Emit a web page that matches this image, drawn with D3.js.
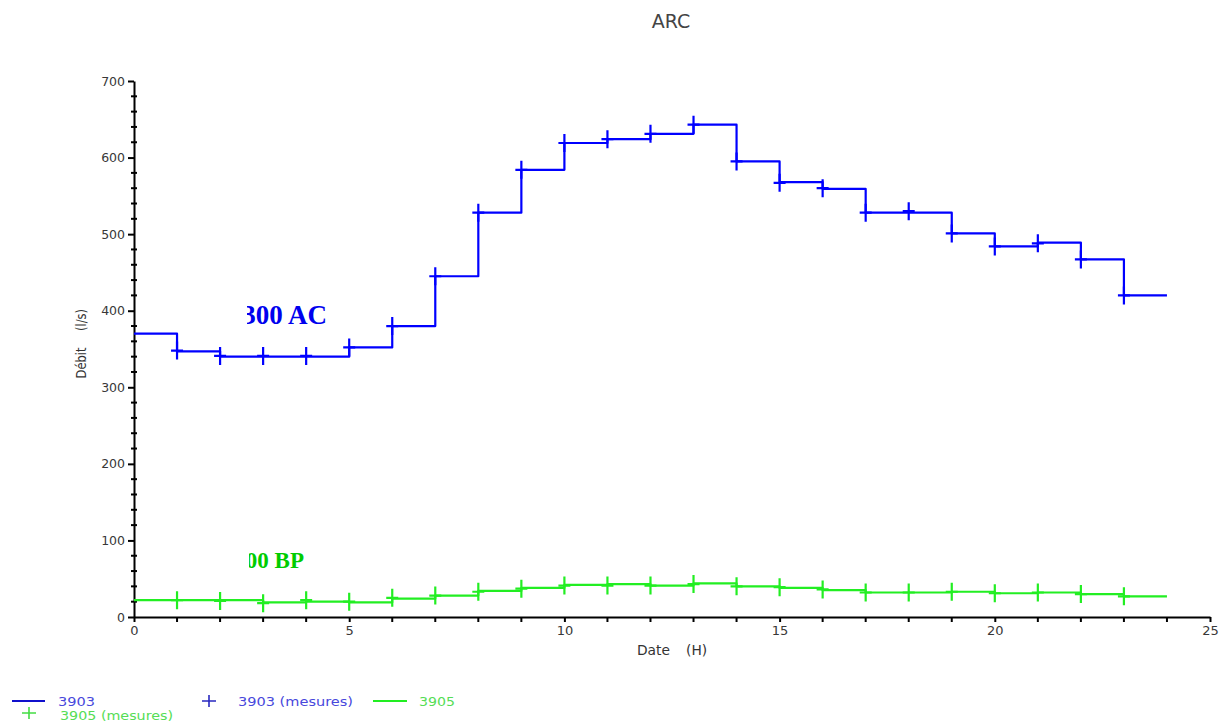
<!DOCTYPE html>
<html>
<head>
<meta charset="utf-8">
<script src="https://cdn.jsdelivr.net/npm/d3@7"></script>
<style>
  html, body { margin: 0; padding: 0; background: #fff; }
  svg { display: block; }
</style>
</head>
<body>
<svg id="chart" width="1222" height="722"></svg>
<script>
// Hourly step boundaries (H)
const hours = [0, 1, 2, 3, 4, 5, 6, 7, 8, 9, 10, 11, 12, 13, 14, 15, 16, 17, 18, 19, 20, 21, 22, 23, 24];
// Flow of each hourly interval (l/s)
const flow3903 = [370, 347, 340, 340, 340, 352, 380, 445, 528, 584, 619, 624, 631, 643, 595, 568, 559, 528, 528, 501, 484, 489, 467, 420];
const flow3905 = [22, 22, 22, 19, 20, 19, 24, 28, 34, 38, 42, 43, 41, 44, 40, 38, 35, 32, 32, 33, 31, 32, 30, 27];
// Measured points
const measureHours = [1, 2, 3, 4, 5, 6, 7, 8, 9, 10, 11, 12, 13, 14, 15, 16, 17, 18, 19, 20, 21, 22, 23];
const measures3903 = [348, 341, 341, 341, 352, 380, 445, 528, 584, 619, 624, 631, 643, 595, 567, 560, 528, 530, 501, 484, 488, 467, 420];
const measures3905 = [22, 21, 18, 22, 20, 25, 28, 33, 37, 41, 41, 41, 43, 40, 39, 36, 32, 32, 33, 31, 32, 30, 27];
// Axis ticks
const xTicks = [0, 5, 10, 15, 20, 25];
const xMinorTicks = [1, 2, 3, 4, 6, 7, 8, 9, 11, 12, 13, 14, 16, 17, 18, 19, 21, 22, 23, 24];
const yTicks = [0, 100, 200, 300, 400, 500, 600, 700];
const yMinorTicks = [20, 40, 60, 80, 120, 140, 160, 180, 220, 240, 260, 280, 320, 340, 360, 380,
                     420, 440, 460, 480, 520, 540, 560, 580, 620, 640, 660, 680];

const BLUE = "#0000ff";
const GREEN = "#22ee22";

const svg = d3.select("#chart");
const x = d3.scaleLinear().domain([0, 25]).range([134, 1210]);
const y = d3.scaleLinear().domain([0, 700]).range([617, 81]);

// Title
svg.append("text")
  .attr("x", 671).attr("y", 28)
  .attr("text-anchor", "middle")
  .attr("font-family", "DejaVu Sans, sans-serif")
  .attr("font-size", 19)
  .attr("fill", "#444")
  .text("ARC");

// Y axis (major + minor ticks)
const yAxis = svg.append("g")
  .attr("transform", `translate(${x(0)},0)`)
  .call(d3.axisLeft(y).tickValues(yTicks).tickSize(6).tickSizeOuter(0).tickPadding(3));
yAxis.select(".domain").attr("stroke", "#000").attr("stroke-width", 2);
yAxis.selectAll(".tick line").attr("stroke", "#000").attr("stroke-width", 2);
yAxis.selectAll(".tick text")
  .attr("font-family", "DejaVu Sans, sans-serif")
  .attr("font-size", 12.5)
  .attr("fill", "#383838");

svg.append("g").selectAll("line")
  .data(yMinorTicks).join("line")
  .attr("x1", x(0) - 3).attr("x2", x(0) + 3)
  .attr("y1", d => y(d)).attr("y2", d => y(d))
  .attr("stroke", "#000").attr("stroke-width", 2);

// X axis (major + minor ticks)
const xAxis = svg.append("g")
  .attr("transform", `translate(0,${y(0)})`)
  .call(d3.axisBottom(x).tickValues(xTicks).tickSize(5).tickSizeOuter(0).tickPadding(4));
xAxis.select(".domain").attr("stroke", "#000").attr("stroke-width", 2);
xAxis.selectAll(".tick line").attr("stroke", "#000").attr("stroke-width", 2);
xAxis.selectAll(".tick text")
  .attr("font-family", "DejaVu Sans, sans-serif")
  .attr("font-size", 13)
  .attr("fill", "#383838");

svg.append("g").selectAll("line")
  .data(xMinorTicks).join("line")
  .attr("x1", d => x(d)).attr("x2", d => x(d))
  .attr("y1", y(0)).attr("y2", y(0) + 5)
  .attr("stroke", "#000").attr("stroke-width", 2);

// Axis titles
const labelFont = "DejaVu Sans, sans-serif";
svg.append("text").attr("x", 637).attr("y", 655)
  .attr("font-family", labelFont).attr("font-size", 13.8).attr("fill", "#333").text("Date");
svg.append("text").attr("x", 686).attr("y", 655)
  .attr("font-family", labelFont).attr("font-size", 13.8).attr("fill", "#333").text("(H)");
svg.append("text").attr("transform", "translate(86,363) rotate(-90) scale(1,1.18)")
  .attr("text-anchor", "middle")
  .attr("font-family", labelFont).attr("font-size", 11.5).attr("fill", "#333").text("Débit");
svg.append("text").attr("transform", "translate(86,320) rotate(-90) scale(1,1.18)")
  .attr("text-anchor", "middle")
  .attr("font-family", labelFont).attr("font-size", 11.5).attr("fill", "#333").text("(l/s)");

// Step lines: each interval value held until the next hour
const stepPoints = flow => hours.map((h, i) => [h, flow[Math.min(i, flow.length - 1)]]);
const stepLine = d3.line()
  .x(d => x(d[0])).y(d => y(d[1]))
  .curve(d3.curveStepAfter);

function drawSeries(flow, measures, color) {
  svg.append("path")
    .datum(stepPoints(flow))
    .attr("d", stepLine)
    .attr("fill", "none")
    .attr("stroke", color)
    .attr("stroke-width", 2.2)
    .attr("stroke-linejoin", "round");

  // "+" markers at measured values
  svg.append("g").selectAll("path")
    .data(measureHours.map((h, i) => [h, measures[i]]))
    .join("path")
    .attr("d", d => {
      const cx = x(d[0]), cy = y(d[1]);
      return `M${cx - 6},${cy}H${cx + 6}M${cx},${cy - 9}V${cy + 9}`;
    })
    .attr("stroke", color)
    .attr("stroke-width", 2.2)
    .attr("fill", "none");
}

drawSeries(flow3905, measures3905, GREEN);
drawSeries(flow3903, measures3903, BLUE);

// Station annotations, trimmed on their left side
const defs = svg.append("defs");
defs.append("clipPath").attr("id", "clipAC")
  .append("rect").attr("x", 247).attr("y", 280).attr("width", 200).attr("height", 60);
defs.append("clipPath").attr("id", "clipBP")
  .append("rect").attr("x", 249).attr("y", 530).attr("width", 200).attr("height", 60);

svg.append("text")
  .attr("clip-path", "url(#clipAC)")
  .attr("x", 327).attr("y", 324)
  .attr("text-anchor", "end")
  .attr("font-family", "Liberation Serif, Times New Roman, serif")
  .attr("font-weight", "bold")
  .attr("font-size", 27)
  .attr("fill", "#0000ee")
  .text("300 AC");

svg.append("text")
  .attr("clip-path", "url(#clipBP)")
  .attr("x", 304).attr("y", 568)
  .attr("text-anchor", "end")
  .attr("font-family", "Liberation Serif, Times New Roman, serif")
  .attr("font-weight", "bold")
  .attr("font-size", 23)
  .attr("fill", "#00cc00")
  .text("00 BP");

// Legend (wide lettering, two tight rows)
const legendFont = "DejaVu Sans, sans-serif";
const legendBlueText = "#4848dc";
const legendGreenText = "#55dd55";
const plus = (cx, cy) => `M${cx - 7},${cy}H${cx + 7}M${cx},${cy - 6}V${cy + 6}`;

function legendText(xPos, yPos, width, color, label) {
  svg.append("text").attr("x", xPos).attr("y", yPos)
    .attr("font-family", legendFont).attr("font-size", 12)
    .attr("textLength", width).attr("lengthAdjust", "spacingAndGlyphs")
    .attr("fill", color).text(label);
}

svg.append("line").attr("x1", 12).attr("x2", 45).attr("y1", 701).attr("y2", 701)
  .attr("stroke", "#1010cc").attr("stroke-width", 2);
legendText(58, 705.5, 37, legendBlueText, "3903");

svg.append("path").attr("d", plus(209, 701))
  .attr("stroke", "#2828c0").attr("stroke-width", 1.6).attr("fill", "none");
legendText(238, 705.5, 115, legendBlueText, "3903 (mesures)");

svg.append("line").attr("x1", 373).attr("x2", 407).attr("y1", 701).attr("y2", 701)
  .attr("stroke", GREEN).attr("stroke-width", 2);
legendText(419, 705.5, 36, legendGreenText, "3905");

svg.append("path").attr("d", plus(29, 713))
  .attr("stroke", "#44dd44").attr("stroke-width", 1.6).attr("fill", "none");
legendText(60, 720, 113, legendGreenText, "3905 (mesures)");
</script>
</body>
</html>
